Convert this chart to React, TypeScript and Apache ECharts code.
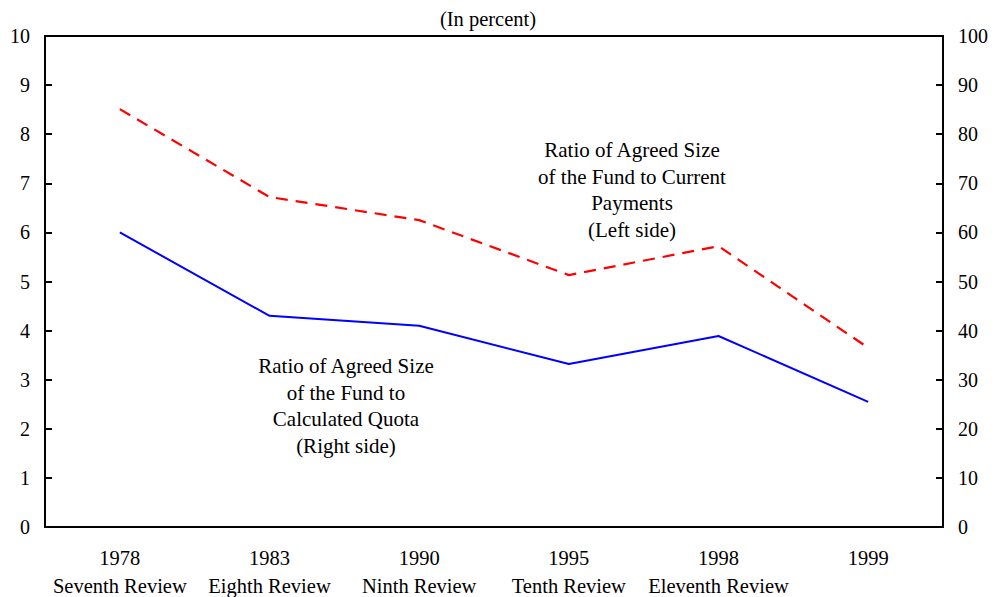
import React, { useEffect, useRef } from "react";
import * as echarts from "echarts";

const years = ["1978", "1983", "1990", "1995", "1998", "1999"];
const reviews = ["Seventh Review", "Eighth Review", "Ninth Review", "Tenth Review", "Eleventh Review", ""];
const currentPayments = [8.51, 6.72, 6.25, 5.13, 5.72, 3.65];
const calculatedQuota = [60, 43, 41, 33.2, 38.9, 25.5];
const leftTicks = [0, 10];
const rightTicks = [0, 100];

const FONT = "Liberation Serif";

export default function App() {
  const ref = useRef<HTMLDivElement>(null);
  useEffect(() => {
    if (!ref.current) return;
    const chart = echarts.init(ref.current, undefined, { renderer: "svg" });
    const categories = years.map((y, i) => (reviews[i] ? `${y}\n${reviews[i]}` : `${y}\n `));
    chart.setOption({
      animation: false,
      textStyle: { fontFamily: FONT },
      grid: {
        left: 45,
        right: 52,
        top: 36,
        bottom: 70,
        outerBoundsMode: "none",
        containLabel: false,
        show: true,
        borderColor: "#000",
        borderWidth: 2,
        backgroundColor: "transparent",
      },
      xAxis: {
        type: "category",
        data: categories,
        boundaryGap: true,
        axisLine: { lineStyle: { color: "#000", width: 2 } },
        axisTick: { inside: true, length: 7, lineStyle: { color: "#000", width: 2 } },
        axisLabel: { color: "#000", fontSize: 20.5, fontFamily: FONT, lineHeight: 28, margin: 17, interval: 0 },
      },
      yAxis: [
        {
          type: "value",
          min: leftTicks[0],
          max: leftTicks[1],
          interval: 1,
          position: "left",
          splitLine: { show: false },
          axisLine: { show: true, lineStyle: { color: "#000", width: 2 } },
          axisTick: { show: true, inside: true, length: 7, lineStyle: { color: "#000", width: 2 } },
          axisLabel: { color: "#000", fontSize: 20, fontFamily: FONT, margin: 15 },
        },
        {
          type: "value",
          min: rightTicks[0],
          max: rightTicks[1],
          interval: 10,
          position: "right",
          splitLine: { show: false },
          axisLine: { show: true, lineStyle: { color: "#000", width: 2 } },
          axisTick: { show: true, inside: true, length: 7, lineStyle: { color: "#000", width: 2 } },
          axisLabel: { color: "#000", fontSize: 20, fontFamily: FONT, margin: 15 },
        },
      ],
      series: [
        {
          type: "line",
          name: "Current Payments",
          yAxisIndex: 0,
          data: currentPayments,
          showSymbol: false,
          symbol: "none",
          lineStyle: { color: "#ff0000", width: 2.2, type: [12, 8] },
        },
        {
          type: "line",
          name: "Calculated Quota",
          yAxisIndex: 1,
          data: calculatedQuota,
          showSymbol: false,
          symbol: "none",
          lineStyle: { color: "#0000ff", width: 2 },
        },
      ],
      graphic: [
        {
          type: "text",
          x: 488,
          y: 8,
          style: { text: "(In percent)", fill: "#000", font: `20.5px "${FONT}"`, align: "center" },
        },
        {
          type: "text",
          x: 632,
          y: 137,
          style: {
            text: "Ratio of Agreed Size\nof the Fund to Current\nPayments\n(Left side)",
            fill: "#000",
            font: `21px "${FONT}"`,
            align: "center",
            lineHeight: 26.5,
          },
        },
        {
          type: "text",
          x: 346,
          y: 353,
          style: {
            text: "Ratio of Agreed Size\nof the Fund to\nCalculated Quota\n(Right side)",
            fill: "#000",
            font: `21px "${FONT}"`,
            align: "center",
            lineHeight: 26.5,
          },
        },
      ],
    });
    return () => chart.dispose();
  }, []);
  return <div ref={ref} style={{ width: 995, height: 597, position: "absolute", left: 0, top: 0, background: "#fff" }} />;
}
